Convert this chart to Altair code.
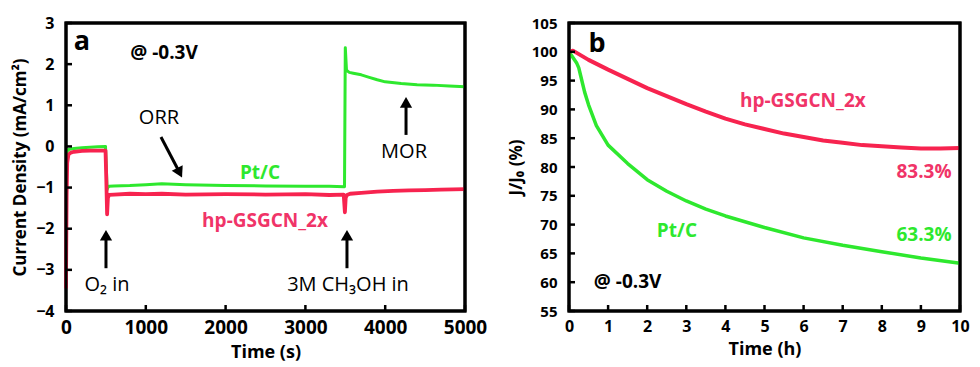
import altair as alt
import pandas as pd

# ---------------- Panel a data (chronoamperometry) ----------------
a_pt_t = [0, 8, 20, 40, 100, 200, 300, 400, 495, 505, 515, 525, 540, 600, 800, 1000,
          1200, 1500, 2000, 2500, 3000, 3300, 3490, 3500, 3515, 3550, 3600, 3700, 3800,
          3900, 4000, 4200, 4400, 4600, 4800, 5000]
a_pt_j = [-0.25, -0.15, -0.1, -0.07, -0.05, -0.03, -0.02, -0.01, 0.0, -0.5, -1.05, -1.0,
          -0.97, -0.96, -0.95, -0.93, -0.91, -0.93, -0.95, -0.96, -0.97, -0.97, -0.98,
          2.4, 1.85, 1.8, 1.78, 1.74, 1.68, 1.62, 1.57, 1.53, 1.5, 1.49, 1.47, 1.45]

a_hp_t = [0, 3, 8, 15, 30, 60, 100, 200, 300, 400, 495, 505, 515, 525, 540, 600, 800,
          1000, 1200, 1500, 2000, 2500, 3000, 3300, 3480, 3495, 3505, 3520, 3560, 3700,
          3900, 4100, 4300, 4500, 4700, 5000]
a_hp_j = [-3.45, -2.5, -1.2, -0.4, -0.2, -0.15, -0.13, -0.11, -0.1, -0.1, -0.1, -0.8,
          -1.65, -1.25, -1.18, -1.17, -1.15, -1.16, -1.15, -1.17, -1.16, -1.17, -1.16,
          -1.18, -1.17, -1.6, -1.25, -1.18, -1.15, -1.13, -1.1, -1.08, -1.07, -1.06,
          -1.05, -1.04]

a_xticks = [0, 1000, 2000, 3000, 4000, 5000]
a_yticks = [-4, -3, -2, -1, 0, 1, 2, 3]

# ---------------- Panel b data (relative current) ----------------
b_pt_h = [0, 0.1, 0.2, 0.25, 0.3, 0.4, 0.5, 0.7, 1.0, 1.5, 2, 2.5, 3, 3.5, 4, 5, 6, 7,
          8, 9, 10]
b_pt_r = [100, 99.0, 98.0, 97.2, 95.8, 93.0, 90.8, 87.2, 83.8, 80.6, 77.8, 75.8, 74.1,
          72.7, 71.5, 69.5, 67.7, 66.4, 65.3, 64.2, 63.3]

b_hp_h = [0, 0.1, 0.5, 1, 1.5, 2, 2.5, 3, 3.5, 4, 4.5, 5, 5.5, 6, 6.5, 7, 7.5, 8, 8.5,
          9, 9.5, 10]
b_hp_r = [100, 100.2, 98.6, 96.9, 95.3, 93.7, 92.3, 90.9, 89.6, 88.4, 87.4, 86.6, 85.8,
          85.2, 84.6, 84.2, 83.8, 83.6, 83.4, 83.2, 83.2, 83.3]

b_xticks = list(range(0, 11))
b_yticks = [55, 60, 65, 70, 75, 80, 85, 90, 95, 100, 105]

# ---------------- annotations ----------------
a_text = ["a", "@ -0.3V", "ORR", "Pt/C", "hp-GSGCN_2x", "O₂ in", "3M CH₃OH in", "MOR"]
a_text_x = [200, 1228, 1165, 2431, 2494, 514, 3534, 4236]
a_text_y = [2.54, 2.27, 0.69, -0.65, -1.81, -3.37, -3.37, -0.14]
a_text_kind = ["panel", "bold", "plain", "green", "red", "plain", "plain", "plain"]

a_arrow_x = [1190, 501, 3521, 4261]
a_arrow_y = [0.23, -2.96, -2.96, 0.28]
a_arrow_x2 = [1420, 501, 3521, 4261]
a_arrow_y2 = [-0.62, -2.22, -2.22, 1.02]
a_head_x = [1424, 501, 3521, 4261]
a_head_y = [-0.64, -2.16, -2.16, 1.07]
a_head_angle = [153, 0, 0, 0]

b_text = ["b", "hp-GSGCN_2x", "83.3%", "Pt/C", "63.3%", "@ -0.3V"]
b_text_x = [0.72, 5.98, 9.08, 2.76, 9.08, 1.5]
b_text_y = [101.4, 91.5, 79.1, 68.9, 68.2, 60.0]
b_text_kind = ["panel", "red", "red", "green", "green", "bold"]

GREEN = "#2ee82e"
RED = "#f7234f"
RED_TXT = "#f03468"
FONT = "Open Sans"
W_A, H_A = 399, 288
W_B, H_B = 391, 288
TICK_PX = 6


def axis(values, label_size, title_size, pad, title_pad):
    return alt.Axis(values=values, ticks=False, tickSize=0, domain=False, grid=False,
                    format="d", labelOverlap=False,
                    labelFont=FONT, labelFontWeight="bold", labelFontSize=label_size,
                    labelColor="black", labelPadding=pad, titleFont=FONT,
                    titleFontWeight="bold", titleFontSize=title_size, titleColor="black",
                    titlePadding=title_pad, labelFlush=False)


def panel(series, xtitle, ytitle, xdom, ydom, xt, yt, W, H, texts, arrows, xlab, ylab):
    xsc = alt.Scale(domain=xdom, nice=False, zero=False)
    ysc = alt.Scale(domain=ydom, nice=False, zero=False)
    xax = axis(xt, xlab, 18, 7, 6)
    yax = axis(yt, ylab, 17, 12, 6)
    x0, x1 = xdom
    y0, y1 = ydom
    tx_len = TICK_PX * (x1 - x0) / W
    ty_len = TICK_PX * (y1 - y0) / H

    def X(f):
        return alt.X(f, scale=xsc, title=xtitle, axis=xax)

    def Y(f):
        return alt.Y(f, scale=ysc, title=ytitle, axis=yax)

    layers = []
    for (xv, yv, col, sw) in series:
        df = pd.DataFrame({"x": xv, "y": yv})
        layers.append(alt.Chart(df).mark_line(color=col, strokeWidth=sw,
                                              strokeJoin="round").encode(x=X("x:Q"), y=Y("y:Q")))
    if arrows is not None:
        ax, ay, ax2, ay2, hx, hy, ha = arrows
        da = pd.DataFrame({"x": ax, "y": ay, "x2": ax2, "y2": ay2})
        layers.append(alt.Chart(da).mark_rule(color="black", strokeWidth=3).encode(
            x=X("x:Q"), y=Y("y:Q"), x2="x2:Q", y2="y2:Q"))
        dh = pd.DataFrame({"x": hx, "y": hy, "ang": ha})
        layers.append(alt.Chart(dh).mark_point(shape="triangle-up", filled=True, color="black",
                                               opacity=1, size=150).encode(
            x=X("x:Q"), y=Y("y:Q"), angle=alt.Angle("ang:Q", scale=None)))
    tx, ty, tt, tk = texts
    styles = {
        "panel": dict(fontSize=27, fontWeight="bold", color="black"),
        "bold": dict(fontSize=19, fontWeight="bold", color="black"),
        "plain": dict(fontSize=20, fontWeight="normal", color="black"),
        "green": dict(fontSize=19, fontWeight="bold", color=GREEN),
        "red": dict(fontSize=19, fontWeight="bold", color=RED_TXT),
    }
    for kind, st in styles.items():
        rows = [(a, b, c) for a, b, c, k in zip(tx, ty, tt, tk) if k == kind]
        if not rows:
            continue
        dft = pd.DataFrame(rows, columns=["x", "y", "t"])
        layers.append(alt.Chart(dft).mark_text(font=FONT, align="center", baseline="middle",
                                               **st).encode(
            x=X("x:Q"), y=Y("y:Q"), text="t:N"))
    # inward ticks drawn as short two-point line segments
    trows = []
    for i, v in enumerate(xt):
        trows.append({"id": f"x{i}", "o": 0, "x": float(v), "y": float(y0)})
        trows.append({"id": f"x{i}", "o": 1, "x": float(v), "y": float(y0 + ty_len)})
    for i, v in enumerate(yt):
        trows.append({"id": f"y{i}", "o": 0, "x": float(x0), "y": float(v)})
        trows.append({"id": f"y{i}", "o": 1, "x": float(x0 + tx_len), "y": float(v)})
    tdf = pd.DataFrame(trows)
    layers.append(alt.Chart(tdf).mark_line(color="black", strokeWidth=2.5).encode(
        x=X("x:Q"), y=Y("y:Q"), detail="id:N", order="o:Q"))
    # frame drawn as a closed line path
    fdf = pd.DataFrame({
        "o": [0, 1, 2, 3, 4],
        "x": [float(x0), float(x1), float(x1), float(x0), float(x0)],
        "y": [float(y0), float(y0), float(y1), float(y1), float(y0)],
    })
    layers.append(alt.Chart(fdf).mark_line(color="black", strokeWidth=3,
                                           strokeJoin="miter", strokeCap="square").encode(
        x=X("x:Q"), y=Y("y:Q"), order="o:Q"))
    return alt.layer(*layers).properties(width=W, height=H)


pa = panel([(a_pt_t, a_pt_j, GREEN, 3), (a_hp_t, a_hp_j, RED, 3.8)],
           "Time (s)", "Current Density (mA/cm²)", [0, 5000], [-4, 3],
           a_xticks, a_yticks, W_A, H_A,
           (a_text_x, a_text_y, a_text, a_text_kind),
           (a_arrow_x, a_arrow_y, a_arrow_x2, a_arrow_y2, a_head_x, a_head_y, a_head_angle),
           19, 16)

pb = panel([(b_pt_h, b_pt_r, GREEN, 3.5), (b_hp_h, b_hp_r, RED, 4)],
           "Time (h)", "J/J₀ (%)", [0, 10], [55, 105],
           b_xticks, b_yticks, W_B, H_B,
           (b_text_x, b_text_y, b_text, b_text_kind), None, 16, 15)

chart = alt.hconcat(pa, pb, spacing=16).properties(
    padding={"left": 2, "top": 5, "right": 0, "bottom": 0}
).configure(background="white").configure_view(stroke="black", strokeWidth=3)

chart.save("out.html", embed_options={"renderer": "svg", "actions": False})
